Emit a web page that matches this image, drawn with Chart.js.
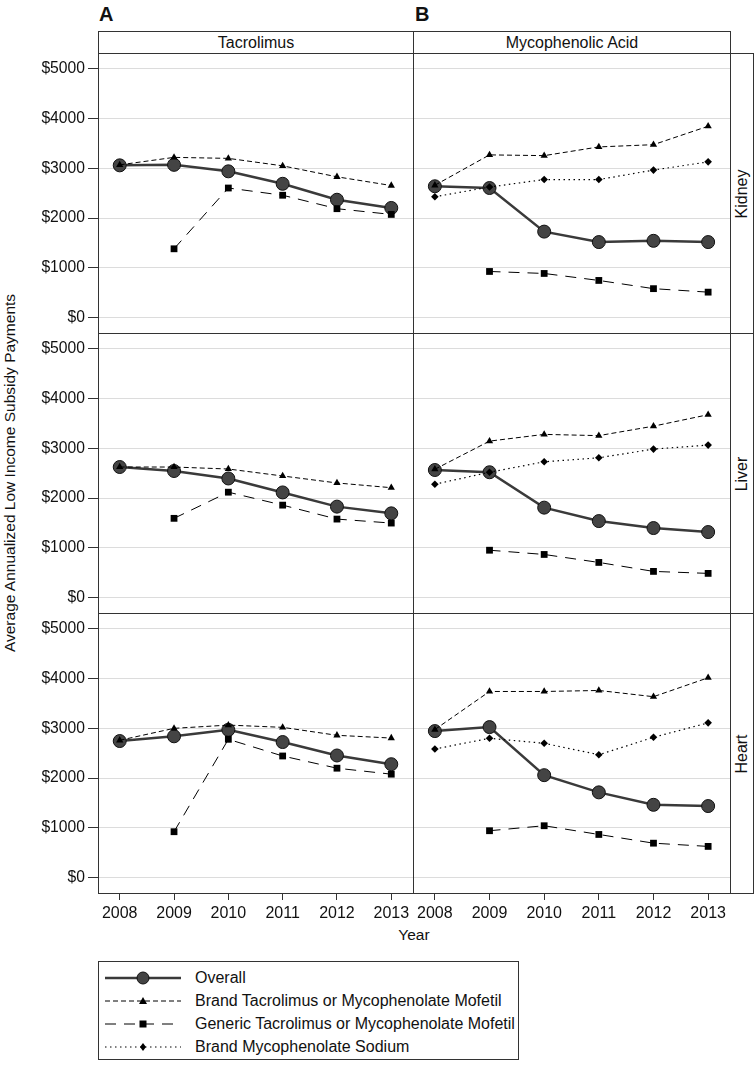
<!DOCTYPE html>
<html><head><meta charset="utf-8">
<script src="https://cdn.jsdelivr.net/npm/chart.js@4.4.1/dist/chart.umd.min.js"></script>
<style>
body{margin:0;background:#fff;width:754px;height:1066px;position:relative;overflow:hidden;font-family:"Liberation Sans",Arial,sans-serif;color:#111}
canvas{position:absolute}
.strip{position:absolute;border:1px solid #333;box-sizing:border-box;background:#fff;font-size:16px}
.strip span{position:absolute;left:50%;top:50%;transform:translate(-50%,-50%);white-space:nowrap}
.vstrip span{transform:translate(-50%,-50%) rotate(-90deg)}
.lab{position:absolute;white-space:nowrap;transform:translate(-50%,-50%)}
.letter{position:absolute;font-weight:bold;font-size:20px;top:3px}
#outer{position:absolute;left:98px;top:53px;width:633px;height:841px;border:1px solid #333;box-sizing:border-box;pointer-events:none;z-index:5}
#legend{position:absolute;left:98px;top:961px;width:421px;height:99px;border:1px solid #333;box-sizing:border-box}
.li{position:absolute;left:6px;height:18px;font-size:16px;line-height:18px}
.li svg{position:absolute;left:0;top:2px}
.li span{position:absolute;left:90px;top:0;white-space:nowrap}
</style></head>
<body>
<div class="letter" style="left:99px">A</div>
<div class="letter" style="left:415px">B</div>
<div class="strip" style="left:98px;top:31px;width:316px;height:23px"><span>Tacrolimus</span></div>
<div class="strip" style="left:413px;top:31px;width:318px;height:23px"><span>Mycophenolic Acid</span></div>
<div class="strip vstrip" style="left:730px;top:53px;width:24px;height:281px"><span>Kidney</span></div>
<div class="strip vstrip" style="left:730px;top:333px;width:24px;height:281px"><span>Liver</span></div>
<div class="strip vstrip" style="left:730px;top:613px;width:24px;height:281px"><span>Heart</span></div>
<div class="lab" style="left:10px;top:473px;transform:translate(-50%,-50%) rotate(-90deg);font-size:15.5px">Average Annualized Low Income Subsidy Payments</div>
<div class="lab" style="left:414px;top:935px;font-size:15.5px">Year</div>

<canvas id="c00" width="414" height="281" style="left:0;top:53px"></canvas>
<canvas id="c01" width="318" height="281" style="left:413px;top:53px"></canvas>
<canvas id="c10" width="414" height="281" style="left:0;top:333px"></canvas>
<canvas id="c11" width="318" height="281" style="left:413px;top:333px"></canvas>
<canvas id="c20" width="414" height="326" style="left:0;top:613px"></canvas>
<canvas id="c21" width="318" height="326" style="left:413px;top:613px"></canvas>
<div id="outer"></div>

<div id="legend">
 <div class="li" style="top:7px"><svg width="76" height="14"><line x1="0" y1="7" x2="76" y2="7" stroke="#3a3a3a" stroke-width="2.5"/><circle cx="38" cy="7" r="6" fill="#444" stroke="#111" stroke-width="1"/></svg><span>Overall</span></div>
 <div class="li" style="top:30px"><svg width="76" height="14"><line x1="0" y1="7" x2="76" y2="7" stroke="#000" stroke-width="1" stroke-dasharray="5,3"/><polygon points="38,3 42,10 34,10" fill="#000"/></svg><span>Brand Tacrolimus or Mycophenolate Mofetil</span></div>
 <div class="li" style="top:53px"><svg width="76" height="14"><line x1="0" y1="7" x2="76" y2="7" stroke="#000" stroke-width="1" stroke-dasharray="11,8"/><rect x="34.5" y="3.5" width="7" height="7" fill="#000"/></svg><span>Generic Tacrolimus or Mycophenolate Mofetil</span></div>
 <div class="li" style="top:76px"><svg width="76" height="14"><line x1="0" y1="7" x2="76" y2="7" stroke="#000" stroke-width="1.2" stroke-dasharray="1.5,3.5"/><polygon points="38,3 41,7 38,11 35,7" fill="#000"/></svg><span>Brand Mycophenolate Sodium</span></div>
</div>

<script>
// ---- data ----
const years = [2008, 2009, 2010, 2011, 2012, 2013];
const yTicks = [0, 1000, 2000, 3000, 4000, 5000];
const drugs = ["Tacrolimus", "Mycophenolic Acid"];
const organs = ["Kidney", "Liver", "Heart"];
const seriesNames = ["Overall", "Brand Tacrolimus or Mycophenolate Mofetil", "Generic Tacrolimus or Mycophenolate Mofetil", "Brand Mycophenolate Sodium"];

const tacKidneyOverall = [3060, 3070, 2940, 2690, 2370, 2205];
const tacKidneyBrand   = [3070, 3220, 3200, 3050, 2830, 2655];
const tacKidneyGeneric = [null, 1385, 2605, 2460, 2190, 2075];

const mycKidneyOverall = [2640, 2605, 1730, 1520, 1545, 1520];
const mycKidneyBrand   = [2660, 3270, 3255, 3430, 3475, 3845];
const mycKidneyGeneric = [null, 930, 890, 750, 585, 515];
const mycKidneySodium  = [2430, 2625, 2775, 2775, 2965, 3130];

const tacLiverOverall = [2625, 2545, 2395, 2115, 1830, 1695];
const tacLiverBrand   = [2625, 2625, 2585, 2445, 2305, 2210];
const tacLiverGeneric = [null, 1595, 2120, 1860, 1580, 1500];

const mycLiverOverall = [2565, 2520, 1810, 1540, 1400, 1320];
const mycLiverBrand   = [2580, 3145, 3280, 3255, 3445, 3675];
const mycLiverGeneric = [null, 955, 870, 710, 530, 490];
const mycLiverSodium  = [2280, 2520, 2730, 2810, 2985, 3065];

const tacHeartOverall = [2745, 2840, 2970, 2725, 2455, 2280];
const tacHeartBrand   = [2760, 3000, 3065, 3020, 2860, 2805];
const tacHeartGeneric = [null, 925, 2780, 2445, 2200, 2080];

const mycHeartOverall = [2945, 3025, 2060, 1715, 1465, 1440];
const mycHeartBrand   = [2975, 3740, 3740, 3760, 3635, 4015];
const mycHeartGeneric = [null, 945, 1045, 870, 695, 630];
const mycHeartSodium  = [2585, 2800, 2700, 2470, 2820, 3110];

// ---- styles ----
const FONT = "'Liberation Sans', Arial, sans-serif";
const styles = [
  {borderColor:'#3a3a3a', borderWidth:2.5, borderDash:[], pointStyle:'circle', pointRadius:6.5, pointBackgroundColor:'#444', pointBorderColor:'#111', pointBorderWidth:1, order:10},
  {borderColor:'#000', borderWidth:1, borderDash:[5,3], pointStyle:'triangle', pointRadius:4.2, pointBackgroundColor:'#000', pointBorderColor:'#000', pointBorderWidth:0, order:1},
  {borderColor:'#000', borderWidth:1, borderDash:[11,8], pointStyle:'rect', pointRadius:4.8, pointBackgroundColor:'#000', pointBorderColor:'#000', pointBorderWidth:0, order:2},
  {borderColor:'#000', borderWidth:1.2, borderDash:[1.5,3.5], pointStyle:'rectRot', pointRadius:3.8, pointBackgroundColor:'#000', pointBorderColor:'#000', pointBorderWidth:0, order:3}
];

const framePlugin = {
  id:'frame',
  afterDraw(chart){
    const {ctx, chartArea:a} = chart;
    ctx.save();
    ctx.strokeStyle = '#333';
    ctx.lineWidth = 1;
    ctx.strokeRect(Math.round(a.left)+0.5, Math.round(a.top)+0.5, Math.round(a.right-a.left), Math.round(a.bottom-a.top));
    ctx.restore();
  }
};

function makeChart(id, seriesArrays, col, bottomRow){
  const datasets = seriesArrays.map((arr, i) => {
    if (!arr) return null;
    const s = styles[i];
    return Object.assign({
      label: seriesNames[i],
      data: years.map((yr, k) => ({x: yr, y: arr[k]})),
      fill:false, tension:0, spanGaps:false,
      pointHoverRadius: s.pointRadius
    }, s);
  }).filter(d => d);
  new Chart(document.getElementById(id), {
    type:'line',
    data:{datasets},
    plugins:[framePlugin],
    options:{
      responsive:false, animation:false, devicePixelRatio:1,
      layout:{autoPadding:false, padding:{left:0, top:0, right:1, bottom: bottomRow ? 0 : 1}},
      plugins:{legend:{display:false}, tooltip:{enabled:false}},
      scales:{
        x:{
          type:'linear', min:2007.6, max:2013.4,
          display: bottomRow,
          afterBuildTicks(scale){ scale.ticks = years.map(v => ({value:v})); },
          afterFit(scale){ scale.height = bottomRow ? 46 : 0; scale.paddingLeft = 0; scale.paddingRight = 0; },
          grid:{display:true, drawOnChartArea:false, tickLength:7, color:'#333', tickColor:'#333'},
          border:{display:false},
          ticks:{font:{family:FONT, size:16}, color:'#111', padding:4, maxRotation:0, autoSkip:false, callback:v => String(v)}
        },
        y:{
          type:'linear', min:-305, max:5315,
          afterBuildTicks(scale){ scale.ticks = yTicks.map(v => ({value:v})); },
          afterFit(scale){ scale.width = col === 0 ? 98 : 0; scale.paddingTop = 0; scale.paddingBottom = 0; },
          grid:{color:'#dcdcdc', lineWidth:1, drawTicks: col === 0, tickLength:10, tickColor:'#333'},
          border:{display:false},
          ticks:{display: col === 0, font:{family:FONT, size:15.7}, color:'#111', padding:3, callback:v => '$' + v}
        }
      }
    }
  });
}

makeChart('c00', [tacKidneyOverall, tacKidneyBrand, tacKidneyGeneric, null], 0, false);
makeChart('c01', [mycKidneyOverall, mycKidneyBrand, mycKidneyGeneric, mycKidneySodium], 1, false);
makeChart('c10', [tacLiverOverall, tacLiverBrand, tacLiverGeneric, null], 0, false);
makeChart('c11', [mycLiverOverall, mycLiverBrand, mycLiverGeneric, mycLiverSodium], 1, false);
makeChart('c20', [tacHeartOverall, tacHeartBrand, tacHeartGeneric, null], 0, true);
makeChart('c21', [mycHeartOverall, mycHeartBrand, mycHeartGeneric, mycHeartSodium], 1, true);
</script>
</body></html>
